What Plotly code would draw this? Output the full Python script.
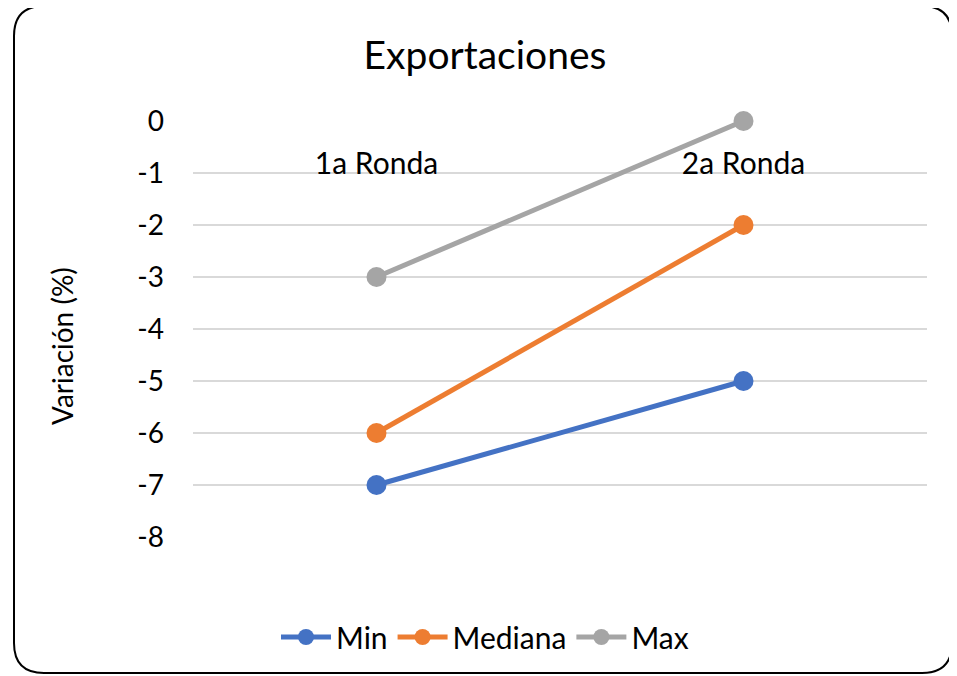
import plotly.graph_objects as go

# Data
rondas = ['1a Ronda', '2a Ronda']
min_vals = [-7, -5]
mediana_vals = [-6, -2]
max_vals = [-3, 0]
y_ticks = [0, -1, -2, -3, -4, -5, -6, -7, -8]
y_tick_labels = ['0', '-1', '-2', '-3', '-4', '-5', '-6', '-7', '-8']

# page adds an 8px body margin, so work in shifted pixel coordinates
OFF = 8
W, H = 957 - OFF, 676 - OFF
L, R, T, B = 193 - OFF, 927 - OFF, 121 - OFF, 537 - OFF  # plot area

def px(x):
    return (x - OFF - L) / (R - L)

def py(y):
    return (B - (y - OFF)) / (B - T)

FONT = 'Lato'

fig = go.Figure()
series = [('Min', min_vals, '#4472C4'),
          ('Mediana', mediana_vals, '#ED7D31'),
          ('Max', max_vals, '#A5A5A5')]
for name, vals, color in series:
    fig.add_trace(go.Scatter(
        x=rondas, y=vals, name=name, mode='lines+markers',
        line=dict(color=color, width=5),
        marker=dict(color=color, size=20),
        cliponaxis=False,
    ))

# Rounded chart border
x0, x1, y0, y1 = px(14), px(952), py(6), py(673)
rx, ry = 30 / (R - L), 30 / (B - T)
path = (f'M {x0 + rx},{y0} L {x1 - rx},{y0} Q {x1},{y0} {x1},{y0 - ry} '
        f'L {x1},{y1 + ry} Q {x1},{y1} {x1 - rx},{y1} '
        f'L {x0 + rx},{y1} Q {x0},{y1} {x0},{y1 + ry} '
        f'L {x0},{y0 - ry} Q {x0},{y0} {x0 + rx},{y0} Z')
fig.add_shape(type='path', path=path, xref='paper', yref='paper',
              line=dict(color='black', width=2), layer='above')

fig.add_annotation(text='Variación (%)', textangle=-90, showarrow=False,
                   xref='paper', yref='paper', x=px(62), y=py(346),
                   xanchor='center', yanchor='middle',
                   font=dict(family=FONT, size=28, color='#000000'))

fig.update_layout(
    width=W, height=H,
    margin=dict(l=L, r=W - R, t=T, b=H - B),
    paper_bgcolor='white', plot_bgcolor='white',
    font=dict(family=FONT, size=28, color='#000000'),
    title=dict(text='Exportaciones', x=(485 - OFF) / W, xanchor='center',
               xref='container', yref='container', y=1 - (55 - OFF) / H,
               yanchor='middle',
               font=dict(family=FONT, size=39, color='#000000')),
    xaxis=dict(type='category', categoryorder='array', categoryarray=rondas,
               range=[-0.5, 1.5], anchor='free', position=1, side='bottom',
               showgrid=False, showline=False, zeroline=False, ticks='',
               ticklabelstandoff=22, tickfont=dict(size=30)),
    yaxis=dict(range=[-8, 0], tickvals=y_ticks, ticktext=y_tick_labels,
               showgrid=True, gridcolor='#D9D9D9', gridwidth=1.5,
               zeroline=False, showline=False, ticks='', ticklabelstandoff=28),
    showlegend=True,
    legend=dict(orientation='h', xref='container', yref='container',
                x=(485 - OFF) / W, xanchor='center', y=1 - (637 - OFF) / H,
                yanchor='middle', font=dict(family=FONT, size=30),
                itemwidth=50, tracegroupgap=0),
)

fig.write_html('out.html')
